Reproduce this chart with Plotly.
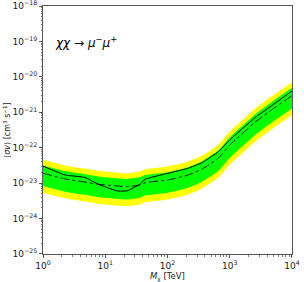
import plotly.graph_objects as go

mass_tev = [1, 2.26, 4.73, 7.66, 15.5, 22.4, 36.3, 43.6, 102, 214, 360, 650, 1000, 2560, 5000, 10000]
obs_log10 = [-22.52, -22.77, -22.84, -23.03, -23.22, -23.22, -23.03, -22.89, -22.72, -22.58, -22.42, -22.12, -21.78, -21.15, -20.78, -20.40]
med_log10 = [-22.72, -22.88, -22.97, -23.03, -23.08, -23.10, -23.05, -22.99, -22.91, -22.77, -22.60, -22.30, -21.93, -21.28, -20.90, -20.53]
green_up_log10 = [-22.50, -22.66, -22.75, -22.81, -22.86, -22.88, -22.83, -22.77, -22.69, -22.55, -22.38, -22.08, -21.71, -21.06, -20.68, -20.31]
green_lo_log10 = [-23.08, -23.24, -23.33, -23.39, -23.44, -23.46, -23.41, -23.35, -23.27, -23.13, -22.96, -22.66, -22.29, -21.64, -21.26, -20.89]
yellow_up_log10 = [-22.34, -22.50, -22.59, -22.65, -22.70, -22.72, -22.67, -22.61, -22.53, -22.39, -22.22, -21.92, -21.55, -20.90, -20.52, -20.15]
yellow_lo_log10 = [-23.27, -23.43, -23.52, -23.58, -23.63, -23.65, -23.60, -23.54, -23.46, -23.32, -23.15, -22.85, -22.48, -21.83, -21.45, -21.08]

x_tick_vals = [1, 10, 100, 1000, 10000]
x_tick_text = ["10<sup>0</sup>", "10<sup>1</sup>", "10<sup>2</sup>", "10<sup>3</sup>", "10<sup>4</sup>"]
y_tick_vals = [1e-25, 1e-24, 1e-23, 1e-22, 1e-21, 1e-20, 1e-19, 1e-18]
y_tick_text = ["10<sup>−25</sup>", "10<sup>−24</sup>", "10<sup>−23</sup>", "10<sup>−22</sup>",
               "10<sup>−21</sup>", "10<sup>−20</sup>", "10<sup>−19</sup>", "10<sup>−18</sup>"]

def lin(v):
    return [10 ** a for a in v]

x_minor = [k * 10 ** d for d in range(0, 4) for k in range(2, 10)]
y_minor = [k * 10.0 ** d for d in range(-25, -18) for k in range(2, 10)]

fig = go.Figure()
band_line = dict(width=0, shape="spline", smoothing=0.6)
fig.add_trace(go.Scatter(x=mass_tev, y=lin(yellow_up_log10), mode="lines", line=dict(color="#ffff00", **band_line),
                         showlegend=False, hoverinfo="skip"))
fig.add_trace(go.Scatter(x=mass_tev, y=lin(yellow_lo_log10), mode="lines", line=dict(color="#ffff00", **band_line),
                         fill="tonexty", fillcolor="#ffff00", showlegend=False, hoverinfo="skip"))
fig.add_trace(go.Scatter(x=mass_tev, y=lin(green_up_log10), mode="lines", line=dict(color="#00ff00", **band_line),
                         showlegend=False, hoverinfo="skip"))
fig.add_trace(go.Scatter(x=mass_tev, y=lin(green_lo_log10), mode="lines", line=dict(color="#00ff00", **band_line),
                         fill="tonexty", fillcolor="#00ff00", showlegend=False, hoverinfo="skip"))
fig.add_trace(go.Scatter(x=mass_tev, y=lin(med_log10), mode="lines",
                         line=dict(width=0.9, color="black", dash="dashdot", shape="spline", smoothing=0.6),
                         showlegend=False))
fig.add_trace(go.Scatter(x=mass_tev, y=lin(obs_log10), mode="lines",
                         line=dict(width=1, color="black", shape="spline", smoothing=0.3),
                         showlegend=False))

axis_common = dict(showline=True, linecolor="#555555", linewidth=1, mirror=True, showgrid=False, zeroline=False,
                   automargin=False, ticklabeloverflow="allow",
                   ticks="outside", ticklen=3, tickcolor="#555555",
                   tickfont=dict(family="DejaVu Sans", size=9, color="#222222"))

fig.update_xaxes(type="log", range=[-0.0005, 4.0005], tickvals=x_tick_vals, ticktext=x_tick_text,
                 minor=dict(tickmode="array", tickvals=x_minor, ticks="outside", ticklen=1.5, tickcolor="#777777", showgrid=False),
                 **axis_common)
fig.update_yaxes(type="log", range=[-25.0005, -17.9995], tickvals=y_tick_vals, ticktext=y_tick_text,
                 minor=dict(tickmode="array", tickvals=y_minor, ticks="outside", ticklen=1.5, tickcolor="#777777", showgrid=False),
                 **axis_common)

fig.add_annotation(xref="paper", yref="paper", x=0.5, y=-0.06, xanchor="center", yanchor="top",
                   text="<i>M</i><sub>χ</sub> [TeV]", showarrow=False,
                   font=dict(family="DejaVu Sans", size=8.5, color="#222222"))
fig.add_annotation(xref="paper", yref="paper", x=-0.145, y=0.5, xanchor="center", yanchor="middle", textangle=-90,
                   text="⟨<i>σv</i>⟩ [cm<sup>3</sup> s<sup>−1</sup>]", showarrow=False,
                   font=dict(family="DejaVu Sans", size=8, color="#222222"))

fig.add_annotation(xref="paper", yref="paper", x=0.04, y=0.855, xanchor="left", yanchor="middle",
                   text="<i>χχ</i> → <i>μ</i><sup>−</sup><i>μ</i><sup>+</sup>", showarrow=False,
                   font=dict(family="DejaVu Sans", size=12, color="black"))

fig.update_layout(width=304, height=282, margin=dict(l=43, r=12, t=6, b=28),
                  plot_bgcolor="white", paper_bgcolor="white", showlegend=False)

fig.write_html("out.html", config={"displayModeBar": False},
               post_script="document.body.style.margin='0';document.body.style.overflow='hidden';")
